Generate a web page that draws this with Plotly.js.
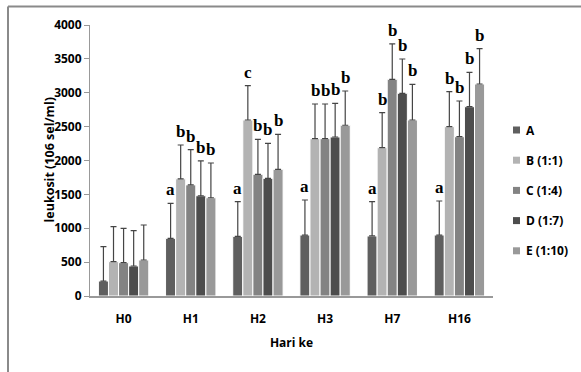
<!DOCTYPE html>
<html>
<head>
<meta charset="utf-8">
<script src="https://cdn.plot.ly/plotly-3.0.1.min.js"></script>
<style>html,body{margin:0;padding:0;background:#fff;}#chart{width:581px;height:372px;}</style>
</head>
<body>
<div id="chart"></div>
<script>
var categories = ["H0", "H1", "H2", "H3", "H7", "H16"];
var seriesNames = ["A", "B (1:1)", "C (1:4)", "D (1:7)", "E (1:10)"];
var valuesA = [221, 851, 880, 900, 886, 900];
var valuesB = [507, 1730, 2598, 2322, 2189, 2499];
var valuesC = [492, 1640, 1796, 2322, 3198, 2351];
var valuesD = [443, 1480, 1737, 2347, 2992, 2794];
var valuesE = [531, 1450, 1870, 2520, 2598, 3129];
var errorA = [507, 517, 512, 517, 506, 502];
var errorB = [516, 499, 506, 512, 517, 517];
var errorC = [507, 520, 517, 512, 522, 527];
var errorD = [521, 513, 517, 497, 506, 508];
var errorE = [517, 513, 517, 506, 527, 522];
var lettersA = ["", "a", "a", "a", "a", "a"];
var lettersB = ["", "b", "c", "b", "b", "b"];
var lettersC = ["", "b", "b", "b", "b", "b"];
var lettersD = ["", "b", "b", "b", "b", "b"];
var lettersE = ["", "b", "b", "b", "b", "b"];
var colors = ["#5f5f5f", "#b3b3b3", "#838383", "#4d4d4d", "#999999"];

var allValues = [valuesA, valuesB, valuesC, valuesD, valuesE];
var allErrors = [errorA, errorB, errorC, errorD, errorE];
var allLetters = [lettersA, lettersB, lettersC, lettersD, lettersE];

// plot area geometry (pixels)
var L = 90, R = 88, T = 25, B = 76, W = 581, H = 372;
var pw = W - L - R, ph = H - T - B;
function px(x) { return (x - L) / pw; }
function py(y) { return (H - B - y) / ph; }

var bargap = 0.25;
var traces = [];
var annotations = [];
var shapes = [];
var barW = (1 - bargap) / seriesNames.length;
for (var s = 0; s < seriesNames.length; s++) {
  traces.push({
    type: "bar",
    name: seriesNames[s],
    x: categories,
    y: allValues[s],
    showlegend: false,
    marker: {color: colors[s], line: {color: "#ffffff", width: 1}},
    error_y: {type: "data", array: allErrors[s], arrayminus: allValues[s].map(function(){return 0;}), symmetric: false, color: "#454545", thickness: 1.2, width: 3}
  });
  for (var c = 0; c < categories.length; c++) {
    if (!allLetters[s][c]) continue;
    annotations.push({
      x: c + (s - (seriesNames.length - 1) / 2) * barW,
      y: allValues[s][c] + allErrors[s][c],
      xref: "x", yref: "y",
      text: "<b>" + allLetters[s][c] + "</b>",
      showarrow: false,
      yanchor: "bottom",
      yshift: 2,
      font: {family: "Liberation Serif", size: 17, color: "#000"}
    });
  }
  // legend entry
  var ly = 130 + s * 30.2;
  shapes.push({type: "rect", xref: "paper", yref: "paper",
    x0: px(513), x1: px(520), y0: py(ly + 3.5), y1: py(ly - 3.5),
    fillcolor: colors[s], line: {width: 0}});
  annotations.push({
    text: "<b>" + seriesNames[s] + "</b>", xref: "paper", yref: "paper",
    x: px(524), y: py(ly), xanchor: "left", yanchor: "middle", showarrow: false,
    font: {family: "Open Sans", size: 12, color: "#000"}
  });
}
annotations.push({
  text: "<b>leukosit (106 sel/ml)</b>", xref: "paper", yref: "paper",
  x: px(38), y: py(160), textangle: -90, showarrow: false,
  font: {family: "Open Sans", size: 12.5, color: "#000"}
});
shapes.push({type: "line", xref: "paper", yref: "paper", x0: px(8), x1: px(582), y0: py(6.5), y1: py(6.5), line: {color: "#8a8a8a", width: 2}});
shapes.push({type: "line", xref: "paper", yref: "paper", x0: px(8), x1: px(8), y0: py(6.5), y1: py(380), line: {color: "#8a8a8a", width: 2}});

var layout = {
  width: W, height: H,
  margin: {l: L, r: R, t: T, b: B, autoexpand: false},
  paper_bgcolor: "#fff", plot_bgcolor: "#fff",
  barmode: "group", bargap: bargap, bargroupgap: 0,
  showlegend: false,
  font: {family: "Open Sans", color: "#000"},
  xaxis: {
    type: "category",
    showline: true, linecolor: "#999", linewidth: 1.5,
    ticks: "", ticklabelstandoff: 11,
    tickfont: {family: "Open Sans", size: 12, color: "#000", weight: "bold"},
    title: {text: "<b>Hari ke</b>", standoff: 12, font: {family: "Open Sans", size: 12, color: "#000"}},
    fixedrange: true
  },
  yaxis: {
    range: [0, 4000], dtick: 500, showgrid: false, zeroline: false,
    showline: true, linecolor: "#999", linewidth: 1,
    ticks: "outside", ticklen: 5, tickcolor: "#999",
    tickfont: {family: "Open Sans", size: 12, color: "#000", weight: "bold"},
    fixedrange: true
  },
  annotations: annotations,
  shapes: shapes
};

Plotly.newPlot("chart", traces, layout, {displayModeBar: false, staticPlot: true});
</script>
</body>
</html>
